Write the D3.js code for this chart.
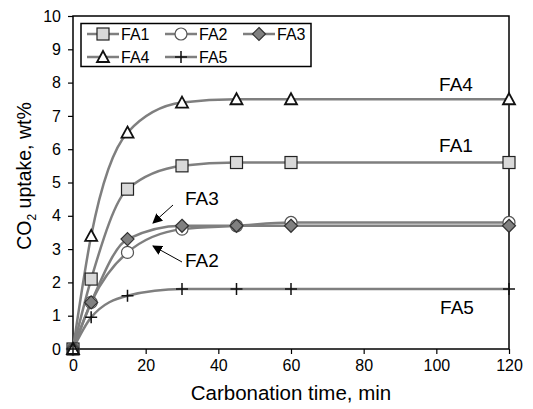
<!DOCTYPE html>
<html><head><meta charset="utf-8">
<script src="https://cdn.jsdelivr.net/npm/d3@7"></script>
<style>body{margin:0;background:#fff}svg{display:block;font-family:"Liberation Sans",Arial,sans-serif}</style>
</head><body><svg id="c" width="533" height="409"></svg>
<script>
const times = [0, 5, 15, 30, 45, 60, 120];
const seriesNames = ["FA1", "FA2", "FA3", "FA4", "FA5"];
const fa1 = [0, 2.1, 4.8, 5.5, 5.6, 5.6, 5.6];
const fa2 = [0, 1.4, 2.9, 3.6, 3.7, 3.8, 3.8];
const fa3 = [0, 1.4, 3.3, 3.7, 3.7, 3.7, 3.7];
const fa4 = [0, 3.4, 6.5, 7.4, 7.5, 7.5, 7.5];
const fa5 = [0, 0.95, 1.6, 1.8, 1.8, 1.8, 1.8];
const xTicks = [0, 20, 40, 60, 80, 100, 120];
const yTicks = [0,1,2,3,4,5,6,7,8,9,10];

const values = [fa1, fa2, fa3, fa4, fa5];
const markerTypes = ["square","circle","diamond","triangle","plus"];

const svg = d3.select("#c");
const L = 73, R = 509, T = 16, B = 349;
const x = d3.scaleLinear().domain([0,120]).range([L,R]);
const y = d3.scaleLinear().domain([0,10]).range([B,T]);

// axes
const gx = svg.append("g").attr("transform",`translate(0,${B})`)
  .call(d3.axisBottom(x).tickValues(xTicks).tickSize(5).tickPadding(6));
const gy = svg.append("g").attr("transform",`translate(${L},0)`)
  .call(d3.axisLeft(y).tickValues(yTicks).tickSize(5).tickPadding(7));
[gx,gy].forEach(g=>{
  g.select(".domain").remove();
  g.selectAll("line").attr("stroke","#000").attr("stroke-width",1.2);
  g.selectAll("text").attr("font-size",16).attr("fill","#000").attr("font-family","Liberation Sans, Arial, sans-serif");
});
svg.append("rect").attr("x",L).attr("y",T).attr("width",R-L).attr("height",B-T)
  .attr("fill","none").attr("stroke","#000").attr("stroke-width",1.5);

// axis titles
svg.append("text").attr("x",(L+R)/2).attr("y",400).attr("text-anchor","middle")
  .attr("font-size",20.5).text("Carbonation time, min");
const yt = svg.append("text").attr("transform",`translate(31,176) rotate(-90)`)
  .attr("text-anchor","middle").attr("font-size",19.5);
yt.append("tspan").text("CO");
yt.append("tspan").attr("font-size",12).attr("dy",5).text("2");
yt.append("tspan").attr("dy",-5).text(" uptake, wt%");

// lines
const line = d3.line().x((d,i)=>x(times[i])).y(d=>y(d)).curve(d3.curveMonotoneX);
const lineColor = "#7f7f7f";
values.forEach(v=>{
  svg.append("path").attr("d",line(v)).attr("fill","none").attr("stroke",lineColor).attr("stroke-width",2.5);
});

function drawMarker(g, type, cx, cy){
  if(type==="square") g.append("rect").attr("x",cx-6).attr("y",cy-6).attr("width",12).attr("height",12)
    .attr("fill","#d9d9d9").attr("stroke","#222").attr("stroke-width",1.2);
  else if(type==="circle") g.append("circle").attr("cx",cx).attr("cy",cy).attr("r",6)
    .attr("fill","#fff").attr("stroke","#555").attr("stroke-width",1.2);
  else if(type==="diamond") g.append("path").attr("d",`M${cx},${cy-6.5}L${cx+6.5},${cy}L${cx},${cy+6.5}L${cx-6.5},${cy}Z`)
    .attr("fill","#808080").attr("stroke","#333").attr("stroke-width",1.2);
  else if(type==="triangle") g.append("path").attr("d",`M${cx},${cy-6}L${cx+6},${cy+5}L${cx-6},${cy+5}Z`)
    .attr("fill","#fff").attr("stroke","#111").attr("stroke-width",1.8);
  else if(type==="plus") g.append("path").attr("d",`M${cx-6},${cy}H${cx+6}M${cx},${cy-6}V${cy+6}`)
    .attr("stroke","#111").attr("stroke-width",1.5);
}
const mg = svg.append("g");
values.forEach((v,si)=>{
  v.forEach((d,i)=>drawMarker(mg, markerTypes[si], x(times[i]), y(d)));
});

// legend
svg.append("rect").attr("x",81).attr("y",23.5).attr("width",230).attr("height",43)
  .attr("fill","#fff").attr("stroke","#000").attr("stroke-width",1.5);
const legPos = [[87,34],[165,34],[243,34],[87,57],[165,57]];
seriesNames.forEach((n,i)=>{
  const [lx,ly] = legPos[i];
  svg.append("line").attr("x1",lx).attr("x2",lx+32).attr("y1",ly).attr("y2",ly)
    .attr("stroke",lineColor).attr("stroke-width",2.5);
  drawMarker(svg, markerTypes[i], lx+16, ly);
  svg.append("text").attr("x",lx+34).attr("y",ly+6).attr("font-size",16).text(n);
});

// annotations
const ann = [["FA4",456,91],["FA1",456,152],["FA5",457,314],["FA3",185,205],["FA2",185,267]];
ann.forEach(a=>svg.append("text").attr("x",a[1]).attr("y",a[2]).attr("font-size",19)
  .attr("text-anchor", a[0]==="FA3"||a[0]==="FA2" ? "start":"middle").text(a[0]));
svg.append("defs").append("marker").attr("id","ah").attr("viewBox","0 0 10 10")
  .attr("refX",9).attr("refY",5).attr("markerWidth",10).attr("markerHeight",10)
  .attr("markerUnits","userSpaceOnUse").attr("orient","auto")
  .append("path").attr("d","M0,0L10,5L0,10Z").attr("fill","#000");
svg.append("line").attr("x1",173).attr("y1",205).attr("x2",153).attr("y2",223)
  .attr("stroke","#000").attr("stroke-width",1).attr("marker-end","url(#ah)");
svg.append("line").attr("x1",182).attr("y1",262).attr("x2",153).attr("y2",246)
  .attr("stroke","#000").attr("stroke-width",1).attr("marker-end","url(#ah)");
</script></body></html>
